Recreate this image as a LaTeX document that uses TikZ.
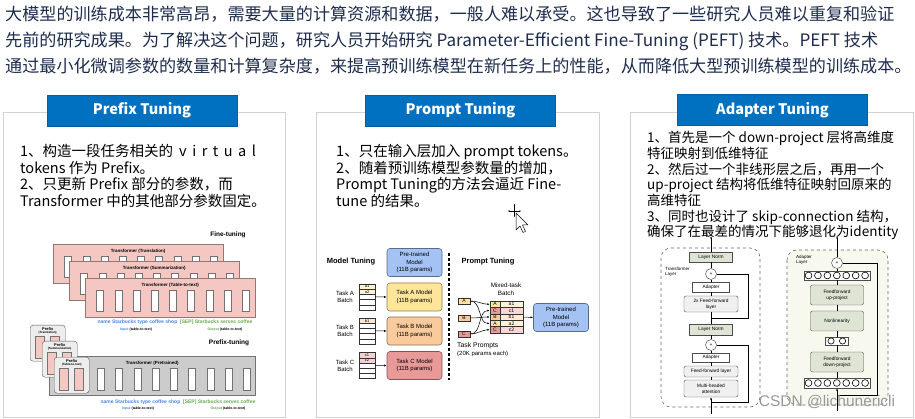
\documentclass[tikz,border=0pt]{standalone}
\usepackage{fontspec}
\setmainfont{Noto Sans CJK SC}
\newfontfamily\figfont{Liberation Sans}
\usepackage{xcolor}
\usepackage{tikz}
\usetikzlibrary{arrows.meta,calc,positioning}
\definecolor{topblue}{RGB}{30,45,78}
\definecolor{hblue}{RGB}{0,112,192}
\definecolor{pinkF}{RGB}{244,199,195}
\definecolor{tokblue}{RGB}{74,134,232}
\definecolor{tokgreen}{RGB}{106,168,79}
\definecolor{mblue}{RGB}{164,194,244}
\definecolor{myel}{RGB}{255,229,153}
\definecolor{mora}{RGB}{249,203,156}
\definecolor{mred}{RGB}{234,153,153}
\definecolor{lngreen}{RGB}{222,229,212}
\definecolor{cream}{RGB}{248,249,238}
\newcommand{\figsz}[2]{\figfont\fontsize{#1}{#2}\selectfont}
\newcommand{\wide}[1]{#1\hspace{5.5pt}}

\begin{document}
\begin{tikzpicture}[x=1pt,y=-1pt,
  panel/.style={draw=black!18,line width=0.9pt,fill=white},
  headbox/.style={fill=hblue,draw=hblue!85!black,text=white,font=\bfseries\fontsize{14.5}{16}\selectfont,minimum width=190pt,minimum height=31pt,inner sep=0pt},
  para/.style={anchor=north west,align=left,inner sep=0pt,font=\fontsize{14.5}{16.5}\selectfont},
  figb/.style={font={\figsz{#1}{\dimexpr#1pt*6/5\relax}\bfseries},inner sep=0pt,align=center},
  figb/.default=4.5,
  figr/.style={font={\figsz{#1}{\dimexpr#1pt*6/5\relax}},inner sep=0pt,align=center},
  figr/.default=6,
  tfbox/.style={draw=pinkF!60!black,fill=pinkF,minimum width=170pt,minimum height=39pt,inner sep=0pt},
  ptbox/.style={draw=black!55,fill=black!20,minimum width=206pt,minimum height=39pt,inner sep=0pt},
  pxbox/.style={draw=black!65,fill=black!7,rounded corners=3pt,minimum width=35pt,minimum height=36pt,inner sep=0pt},
  slot/.style={draw=black!55,fill=white,minimum width=7pt,minimum height=21pt,inner sep=0pt},
  pslot/.style={draw=black!55,fill=pinkF,minimum width=9pt,minimum height=22pt,inner sep=0pt},
  mt/.style={rounded corners=3pt,line width=0.6pt,minimum width=55pt,minimum height=28pt,align=center,inner sep=0pt,font=\figsz{6}{7.8}},
  brow/.style={draw=black!80,minimum width=16pt,minimum height=5.2pt,inner sep=0pt,font=\figsz{4}{4}},
  pbox/.style={draw=black!80,minimum width=12pt,minimum height=6.5pt,inner sep=0pt,font=\figsz{5}{5}},
  mcell/.style={draw=black!80,minimum height=6.4pt,inner sep=0pt,font=\figsz{5}{5}},
  lnbox/.style={draw=black!70,fill=lngreen,minimum width=43pt,minimum height=10pt,inner sep=0pt,font=\figsz{4.8}{5.6}},
  adbox/.style={draw=black!70,fill=white,minimum width=37pt,minimum height=9.5pt,inner sep=0pt,font=\figsz{4.8}{5.6}},
  ffbox/.style={draw=black!70,fill=black!6,rounded corners=1.5pt,minimum width=54pt,inner sep=0pt,align=center,font=\figsz{4.8}{5.8}},
  apbox/.style={draw=black!70,fill=lngreen,rounded corners=2pt,minimum width=53pt,minimum height=20pt,inner sep=0pt,align=center,font=\figsz{4.8}{6}},
  sumc/.style={circle,draw=black!80,fill=white,minimum size=11pt,inner sep=0pt,font=\figsz{5}{5}},
  crow/.style={draw=black!70,fill=white,minimum height=9pt,inner sep=0pt},
  lay/.style={draw=black!60,dashed,rounded corners=10pt,line width=0.6pt},
  arr/.style={-{Latex[length=2.5pt,width=2pt]},line width=0.5pt},
  ln/.style={line width=0.6pt}]
\useasboundingbox[fill=white] (0,0) rectangle (915,419);

% intro text
\node[para,text=topblue,font=\fontsize{17.1}{25.8}\selectfont] (intro) at (5,6) {大模型的训练成本非常高昂，需要大量的计算资源和数据，一般人难以承受。这也导致了一些研究人员难以重复和验证\\先前的研究成果。为了解决这个问题，研究人员开始研究 Parameter-Efficient Fine-Tuning (PEFT) 技术。PEFT 技术\\通过最小化微调参数的数量和计算复杂度，来提高预训练模型在新任务上的性能，从而降低大型预训练模型的训练成本。};

% three panels
\draw[panel] (3,112) rectangle (285,417);
\draw[panel] (316,112) rectangle (599,417);
\draw[panel] (630,112) rectangle (913,417);
\node[headbox] (hpfx) at (142,110.5) {Prefix Tuning};
\node[headbox] (hprm) at (460.5,110.5) {Prompt Tuning};
\node[headbox] (hadp) at (772.5,110) {Adapter Tuning};

\node[para] (pfxtxt) at (20,144.5) {1、构造一段任务相关的\hspace{6pt}\wide{v}\wide{i}\wide{r}\wide{t}\wide{u}\wide{a}l\\tokens 作为 Prefix。\\2、只更新 Prefix 部分的参数，而\\Transformer 中的其他部分参数固定。};
\node[para] (prmtxt) at (336,144.5) {1、只在输入层加入 prompt tokens。\\2、随着预训练模型参数量的增加，\\Prompt Tuning的方法会逼近 Fine-\\tune 的结果。};
\node[para,font=\fontsize{13.5}{15.7}\selectfont] (adptxt) at (647,131) {1、首先是一个 down-project 层将高维度\\特征映射到低维特征\\2、然后过一个非线形层之后，再用一个\\up-project 结构将低维特征映射回原来的\\高维特征\\3、同时也设计了 skip-connection 结构，\\确保了在最差的情况下能够退化为identity};

% prefix tuning figure
\node[figb=6.5] (fttitle) at (228,235) {Fine-tuning};
\foreach \i/\lab in {1/Translation,2/Summarization,3/Table-to-text}{
  \node[tfbox,anchor=north west] (ft\i) at ({37+16*\i},{227+17*\i}) {};
  \foreach \k in {0,...,8}
    \node[slot] (ft\i-\k) at ($(ft\i.north west)+({15+18.2*\k},22.5)$) {};
  \node[figb] (ftl\i) at ($(ft\i.north)+(0,7)$) {Transformer (\lab)};
}
\node[figb=5] (ftin) at (175,322) {\textcolor{tokblue}{name Starbucks type coffee shop}\ \ \textcolor{tokgreen}{[SEP] Starbucks serves coffee}};
\node[figb=3.5] (ftinl) at (136,330) {\textcolor{tokblue}{Input} (table-to-text)};
\node[figb=3.5] (ftoutl) at (225,330) {\textcolor{tokgreen}{Output} (table-to-text)};

\node[figb=6.5] (pttitle) at (229,343) {Prefix-tuning};
\node[ptbox,anchor=north west] (pt) at (49,356) {};
\foreach \k in {0,...,8}
  \node[slot,minimum height=22pt] (pt-\k) at ($(pt.north west)+({51.7+18.25*\k},23)$) {};
\node[figb] (ptl) at ($(pt.north)+(0,7)$) {Transformer (Pretrained)};
\foreach \i/\lab in {1/Translation,2/Summarization,3/Table-to-text}{
  \node[pxbox,anchor=north west] (px\i) at ({18+12*\i},{309+16*\i}) {};
  \node[pslot] (px\i-a) at ($(px\i.north west)+(10,22)$) {};
  \node[pslot] (px\i-b) at ($(px\i.north west)+(25,22)$) {};
  \node[figb=4] (pxl\i) at ($(px\i.north)+(0,4)$) {Prefix};
  \node[figb=3] (pxs\i) at ($(px\i.north)+(0,8)$) {(\lab)};
}
\node[figb=5] (ptin) at (178,402) {\textcolor{tokblue}{name Starbucks type coffee shop}\ \ \textcolor{tokgreen}{[SEP] Starbucks serves coffee}};
\node[figb=3.5] (ptinl) at (138,409) {\textcolor{tokblue}{Input} (table-to-text)};
\node[figb=3.5] (ptoutl) at (228,409) {\textcolor{tokgreen}{Output} (table-to-text)};

% prompt tuning figure
\node[figb=7.5] (mttitle) at (351,262) {Model Tuning};
\node[mt,fill=mblue,draw=mblue!55!black] (pre) at (414.5,262.5) {Pre-trained\\Model\\(11B params)};
\foreach \tk/\lo/\y/\col/\n in {A/a/297/myel/2,B/b/331/mora/1,C/c/365.5/mred/2}{
  \node[mt,fill=\col,draw=\col!55!black] (tm\tk) at (414.5,\y) {Task \tk\ Model\\(11B params)};
  \foreach \k in {1,...,5}{
    \ifnum\k>\n
      \node[brow] (tb\tk\k) at (367,{\y-15.6+5.2*\k}) {};
    \else
      \node[brow,fill=\col!45] (tb\tk\k) at (367,{\y-15.6+5.2*\k}) {\lo\k};
    \fi
  }
  \draw[arr] (tb\tk3.east) -- (tm\tk.west);
  \node[figr] (tl\tk) at (345,\y) {Task \tk\\Batch};
}
\draw[line width=1.3pt,dash pattern=on 3pt off 2pt] (449,253) -- (449,380);

\node[figb=7.5] (prtitle) at (488,262) {Prompt Tuning};
\node[figr=6.3] (mixl) at (506,289) {Mixed-task\\Batch};
\node[pbox,fill=myel] (pA) at (464,301) {A};
\node[pbox,fill=mora] (pB) at (464,318) {B};
\node[pbox,fill=mred] (pC) at (464,334) {C};
\foreach \k/\tk/\v/\col in {1/A/a1/myel,2/C/c1/mred,3/B/b1/mora,4/A/a2/myel,5/C/c2/mred}{
  \node[mcell,minimum width=10pt,fill=\col] (mk\k) at (495,{297.8+6.4*\k}) {\tk};
  \node[mcell,minimum width=23pt,fill=\col!40] (mv\k) at (511.5,{297.8+6.4*\k}) {\v};
  \draw[arr] (p\tk.east) to[out=0,in=180] (mk\k.west);
}
\node[mt,fill=mblue,draw=mblue!55!black] (pre2) at (561,317.5) {Pre-trained\\Model\\(11B params)};
\draw[arr] (mv3.east) -- (pre2.west);
\node[figr=6.8,anchor=west] (tpl) at (457,346) {Task Prompts};
\node[figr=6,anchor=west] (tpp) at (457,354) {(20K params each)};

% mouse pointer
\draw[line width=0.4pt,{Latex[length=1.5pt,width=1.5pt]}-{Latex[length=1.5pt,width=1.5pt]}] (508,211) -- (521,211);
\draw[line width=0.4pt,{Latex[length=1.5pt,width=1.5pt]}-{Latex[length=1.5pt,width=1.5pt]}] (514.5,204) -- (514.5,217);
\draw[fill=white,line width=0.5pt,line join=round] (516,213) -- ++(0,17) -- ++(4,-4) -- ++(3,6.5) -- ++(2.5,-1.2) -- ++(-3,-6.3) -- ++(5.5,0) -- cycle;

% adapter tuning figure: transformer layer
\draw[lay] (661,248) rectangle (760,407);
\node[figr=4.5,anchor=north west,align=left] (tlay) at (665,267) {Transformer\\Layer};
\node[lnbox] (lnT) at (711,257) {Layer Norm};
\node[sumc] (ciT) at (711,274) {+};
\node[adbox] (adT) at (711,287) {Adapter};
\node[ffbox,minimum height=16pt] (ffT) at (711,304) {2x Feed-forward\\layer};
\node[lnbox,minimum height=11pt] (lnM) at (711,329.5) {Layer Norm};
\node[sumc] (ciM) at (711,345) {+};
\node[adbox] (adM) at (711,357.5) {Adapter};
\node[ffbox,minimum height=11pt] (ffM) at (711,371.5) {Feed-forward layer};
\node[ffbox,minimum height=17pt] (mha) at (711,388.5) {Multi-headed\\attention};
\coordinate (inL) at (711,414);
\coordinate (outL) at (711,236);
\coordinate (skL1) at (711,402);
\coordinate (skL2) at (711,318);
\draw[arr] (inL) -- (mha.south);
\draw[ln] (mha.north) -- (ffM.south) (ffM.north) -- (adM.south) (adM.north) -- (ciM.south)
  (ciM.north) -- (lnM.south) (lnM.north) -- (ffT.south) (ffT.north) -- (adT.south)
  (adT.north) -- (ciT.south) (ciT.north) -- (lnT.south);
\draw[arr] (lnT.north) -- (outL);
\draw[ln] (skL1) -- ++(37,0) |- (ciM.east);
\draw[ln] (skL2) -- ++(37,0) |- (ciT.east);

% adapter layer
\draw[lay,fill=cream] (787,250) rectangle (888,405);
\node[figr=4.5,anchor=north west,align=left] (alay) at (796,255) {Adapter\\Layer};
\node[sumc] (ciA) at (837,263) {+};
\node[crow,minimum width=66pt] (crT) at (837,275.5) {};
\node[apbox] (upP) at (837,295) {Feedforward\\up-project};
\node[apbox] (nonl) at (837,321) {Nonlinearity};
\node[crow,minimum width=23pt,minimum height=8pt] (crM) at (837,341) {};
\node[apbox] (dnP) at (837,362) {Feedforward\\down-project};
\node[crow,minimum width=66pt,minimum height=10pt] (crB) at (837,383) {};
\foreach \k in {0,...,6}{
  \draw[ln] ($(crT.west)+({4.7+9.43*\k},0)$) circle (3.4pt);
  \draw[ln] ($(crB.west)+({4.7+9.43*\k},0)$) circle (3.4pt);
}
\foreach \k in {0,1}
  \draw[ln] ($(crM.west)+({5.75+11.5*\k},0)$) circle (3.1pt);
\coordinate (inA) at (837,411);
\coordinate (outA) at (837,236);
\coordinate (skA) at (837,395);
\draw[arr] (inA) -- (crB.south);
\draw[ln] (crB.north) -- (dnP.south) (dnP.north) -- (crM.south) (crM.north) -- (nonl.south)
  (nonl.north) -- (upP.south) (upP.north) -- (crT.south) (crT.north) -- (ciA.south);
\draw[arr] (ciA.north) -- (outA);
\draw[ln] (skA) -- ++(40,0) |- (ciA.east);

\node[font=\figsz{15.5}{16},text=black!40] (wm) at (827,402) {CSDN @lichunericli};
\end{tikzpicture}
\end{document}
